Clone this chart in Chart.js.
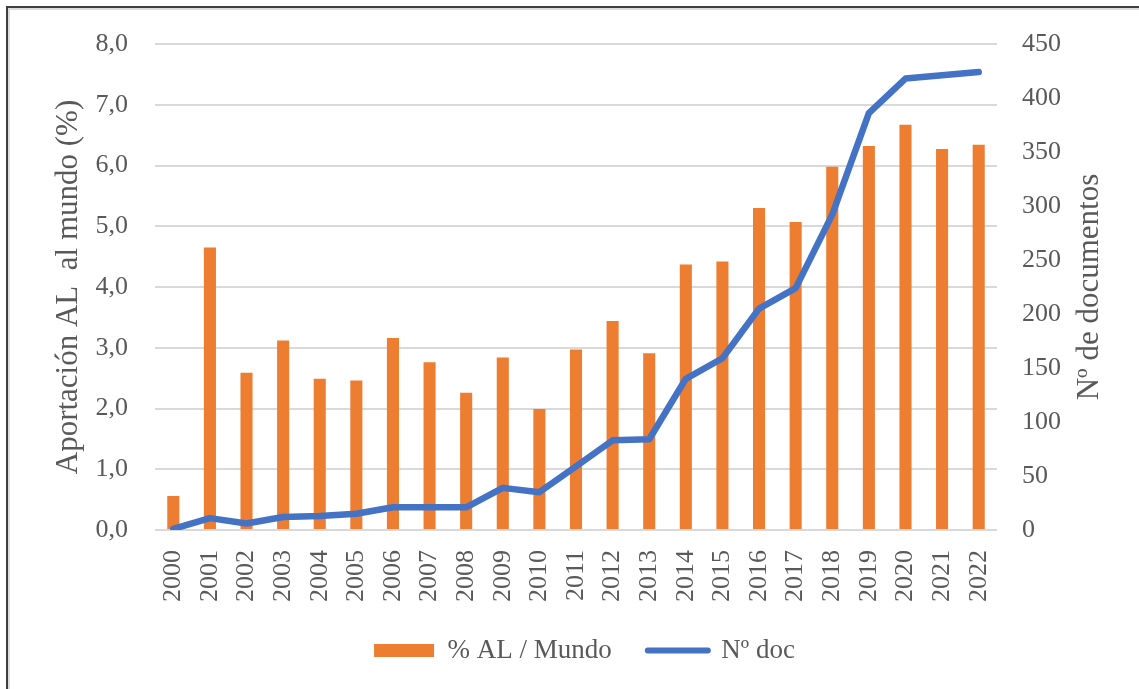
<!DOCTYPE html>
<html>
<head>
<meta charset="utf-8">
<script src="https://cdn.jsdelivr.net/npm/chart.js@4.4.1/dist/chart.umd.min.js"></script>
<style>
  html, body { margin: 0; padding: 0; background: #ffffff; }
  #wrap { position: relative; width: 1139px; height: 689px; overflow: hidden; }
  #frame { position: absolute; left: 6px; top: 6px; width: 1200px; height: 800px;
           border-left: 2px solid #3f3f3f; border-top: 2px solid #3f3f3f;
           box-shadow: inset 2px 2px 0 #dcdcdc; pointer-events: none; }
  canvas { display: block; }
</style>
</head>
<body>
<div id="wrap">
  <canvas id="c" width="1139" height="689"></canvas>
  <div id="frame"></div>
</div>
<script>
const years = ['2000','2001','2002','2003','2004','2005','2006','2007','2008','2009','2010','2011','2012','2013','2014','2015','2016','2017','2018','2019','2020','2021','2022'];
const pctALMundo = [0.56, 4.65, 2.59, 3.12, 2.49, 2.46, 3.16, 2.76, 2.26, 2.84, 1.99, 2.97, 3.44, 2.91, 4.37, 4.42, 5.30, 5.07, 5.98, 6.32, 6.67, 6.27, 6.34];
const numDocs = [1, 11, 6, 12, 13, 15, 21, 21, 21, 39, 35, 59, 83, 84, 140, 159, 205, 224, 292, 386, 418, 421, 424];
const leftTitle = 'Aportación AL  al mundo (%)';
const rightTitle = 'Nº de documentos';
const seriesLabels = ['% AL / Mundo', 'Nº doc'];

const ORANGE = '#ED7D31';
const BLUE = '#4472C4';
const TEXT = '#595959';
const FONT = "'Liberation Serif', 'Times New Roman', serif";

Chart.defaults.font.family = FONT;
Chart.defaults.color = TEXT;

const rightTitlePlugin = {
  id: 'rightTitle',
  afterDraw(chart) {
    const s = chart.scales.y2;
    const ctx = chart.ctx;
    ctx.save();
    ctx.translate(1090, (s.top + s.bottom) / 2);
    ctx.rotate(-Math.PI / 2);
    ctx.font = '31px ' + FONT;
    ctx.fillStyle = TEXT;
    ctx.textAlign = 'center';
    ctx.textBaseline = 'middle';
    ctx.fillText(rightTitle, 0, 0);
    ctx.restore();
  }
};

new Chart(document.getElementById('c'), {
  data: {
    labels: years,
    datasets: [
      {
        type: 'bar',
        label: seriesLabels[0],
        data: pctALMundo,
        backgroundColor: ORANGE,
        borderWidth: 0,
        barPercentage: 0.33,
        categoryPercentage: 1.0,
        yAxisID: 'y',
        order: 2
      },
      {
        type: 'line',
        label: seriesLabels[1],
        data: numDocs,
        borderColor: BLUE,
        backgroundColor: BLUE,
        borderWidth: 6.5,
        pointRadius: 0,
        tension: 0,
        borderCapStyle: 'round',
        borderJoinStyle: 'round',
        yAxisID: 'y2',
        order: 1
      }
    ]
  },
  options: {
    responsive: false,
    animation: false,
    devicePixelRatio: 1,
    layout: { padding: { left: 30, top: 44, right: 0, bottom: 15 } },
    plugins: {
      tooltip: { enabled: false },
      legend: {
        position: 'bottom',
        labels: {
          usePointStyle: true,
          pointStyleWidth: 60,
          boxHeight: 13,
          padding: 36,
          color: TEXT,
          font: { size: 27, family: FONT },
          generateLabels(chart) {
            return [
              { text: seriesLabels[0], fillStyle: ORANGE, strokeStyle: ORANGE, lineWidth: 0, pointStyle: 'rect', datasetIndex: 0, fontColor: TEXT },
              { text: seriesLabels[1], fillStyle: BLUE, strokeStyle: BLUE, lineWidth: 6, lineCap: 'round', pointStyle: 'line', datasetIndex: 1, fontColor: TEXT }
            ];
          }
        }
      }
    },
    scales: {
      x: {
        grid: { display: false, drawTicks: false },
        border: { display: false },
        ticks: { autoSkip: false, minRotation: 90, maxRotation: 90, padding: 20, color: TEXT, font: { size: 26 } },
        afterFit(scale) { scale.height = 71; }
      },
      y: {
        position: 'left',
        min: 0, max: 8,
        grid: { color: '#d9d9d9', lineWidth: 2, drawTicks: false },
        border: { display: false },
        ticks: { stepSize: 1, padding: 27, color: TEXT, font: { size: 26 },
                 callback: (v) => v.toFixed(1).replace('.', ',') },
        title: { display: true, text: leftTitle, color: TEXT, font: { size: 31 }, padding: { top: 20, bottom: 0 } },
        afterFit(scale) { scale.width = 125; }
      },
      y2: {
        position: 'right',
        min: 0, max: 450,
        grid: { display: false, drawTicks: false },
        border: { display: false },
        ticks: { stepSize: 50, padding: 25, color: TEXT, font: { size: 26 } },
        afterFit(scale) { scale.width = 142; }
      }
    }
  },
  plugins: [rightTitlePlugin]
});
</script>
</body>
</html>
